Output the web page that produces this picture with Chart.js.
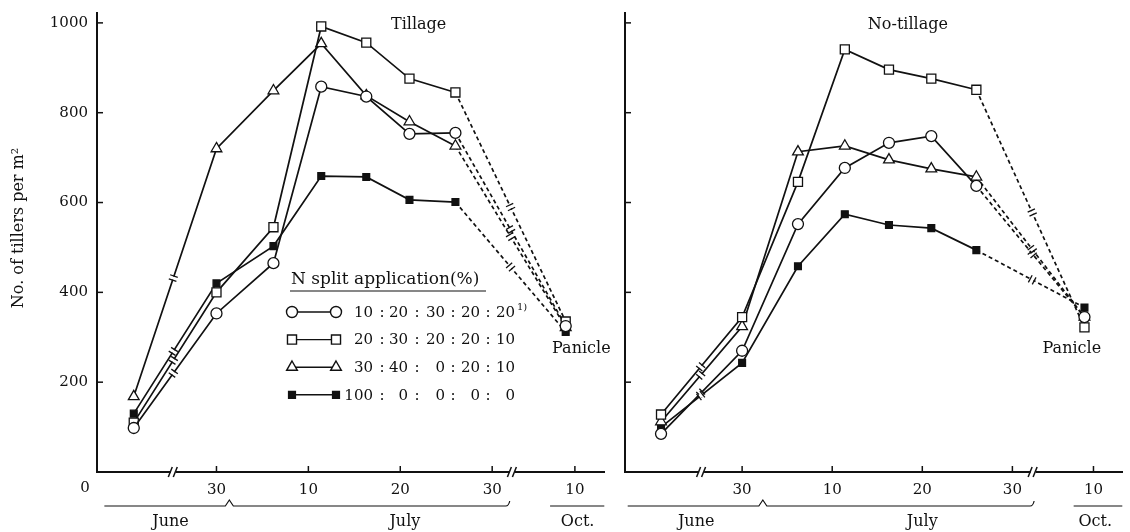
<!DOCTYPE html>
<html>
<head>
<meta charset="utf-8">
<script src="https://cdn.jsdelivr.net/npm/chart.js@4.4.1/dist/chart.umd.min.js"></script>
<style>
  html, body { margin: 0; padding: 0; background: #fff; }
  #wrap { position: relative; width: 1130px; height: 532px; overflow: hidden; }
  canvas { position: absolute; top: 0; }
  #left { left: 0; }
  #right { left: 612px; }
</style>
</head>
<body>
<div id="wrap">
  <canvas id="left" width="612" height="532"></canvas>
  <canvas id="right" width="518" height="532"></canvas>
</div>
<script>
// sampling dates on the broken time axis (days counted from 1 June)
const sampleDays = [21, 30, 36.2, 41.4, 46.3, 51, 56, 68];
const dayTicks = [30, 40, 50, 60, 69];
const dayTickLabels = ["30", "10", "20", "30", "10"];
const monthNames = ["June", "July", "Oct."];
const yTicks = [200, 400, 600, 800, 1000];
const yTitle = "No. of tillers per m²";

// N split application (%) treatments
const legendTitle = "N split application(%)";
const splitRatios = [
  ["10", "20", "30", "20", "20"],
  ["20", "30", "20", "20", "10"],
  ["30", "40", "0", "20", "10"],
  ["100", "0", "0", "0", "0"]
];

// tillage
const tillA = [98, 353, 465, 858, 836, 753, 755, 325];
const tillB = [110, 400, 545, 992, 956, 876, 845, 335];
const tillC = [168, 720, 849, 954, 838, 780, 726, 322];
const tillD = [130, 420, 503, 659, 657, 606, 601, 312];

// no-tillage
const noTillA = [85, 270, 552, 677, 733, 748, 637, 345];
const noTillB = [128, 345, 646, 941, 896, 876, 851, 322];
const noTillC = [112, 324, 713, 726, 695, 675, 657, 345];
const noTillD = [100, 243, 458, 574, 550, 543, 494, 366];

const ink = "#111";
const serif = '"DejaVu Serif", serif';
Chart.defaults.font.family = serif;
Chart.defaults.color = ink;

const markers = [
  { style: "circle", r: 5.5, fill: "#fff" },
  { style: "rect", r: 6.4, fill: "#fff" },
  { style: "triangle", r: 6.2, fill: "#fff" },
  { style: "rect", r: 4.8, fill: ink }
];

function drawMarker(ctx, m, x, y) {
  ctx.beginPath();
  if (m.style === "circle") {
    ctx.arc(x, y, m.r, 0, Math.PI * 2);
  } else if (m.style === "rect") {
    const h = m.r * Math.SQRT1_2;
    ctx.rect(x - h, y - h, 2 * h, 2 * h);
  } else {
    ctx.moveTo(x, y - m.r);
    ctx.lineTo(x + m.r * 0.866, y + m.r * 0.5);
    ctx.lineTo(x - m.r * 0.866, y + m.r * 0.5);
    ctx.closePath();
  }
  ctx.fillStyle = m.fill;
  ctx.fill();
  ctx.stroke();
}

function seg(ctx, x1, y1, x2, y2) {
  ctx.beginPath();
  ctx.moveTo(x1, y1);
  ctx.lineTo(x2, y2);
  ctx.stroke();
}

// ticks, breaks, braces, labels and legend
const decor = {
  id: "decor",
  afterDraw(chart, args, o) {
    const { ctx, chartArea: a } = chart;
    const x = chart.scales.x, y = chart.scales.y;
    ctx.save();
    ctx.strokeStyle = ink;
    ctx.fillStyle = ink;

    // inward tick marks
    ctx.lineWidth = 1.5;
    dayTicks.forEach(v => {
      const px = x.getPixelForValue(v);
      seg(ctx, px, a.bottom, px, a.bottom - 6);
    });
    yTicks.forEach(v => {
      const py = y.getPixelForValue(v);
      seg(ctx, a.left, py, a.left + 6, py);
    });

    // breaks on the x axis
    o.axisBreaks.forEach(v => {
      const px = x.getPixelForValue(v);
      ctx.fillStyle = "#fff";
      ctx.fillRect(px - 2.5, a.bottom - 3, 5, 6);
      ctx.fillStyle = ink;
      ctx.lineWidth = 1.5;
      seg(ctx, px - 5, a.bottom + 5, px - 1, a.bottom - 5);
      seg(ctx, px, a.bottom + 5, px + 4, a.bottom - 5);
    });

    // breaks on the lines
    chart.data.datasets.forEach((ds, i) => {
      const pts = chart.getDatasetMeta(i).data;
      o.lineBreaks.forEach(([v, k]) => {
        const p0 = pts[k], p1 = pts[k + 1];
        const px = x.getPixelForValue(v);
        const t = (px - p0.x) / (p1.x - p0.x);
        const py = p0.y + t * (p1.y - p0.y);
        const ang = Math.atan2(p1.y - p0.y, p1.x - p0.x);
        const cx = Math.cos(ang), cy = Math.sin(ang);
        ctx.strokeStyle = "#fff";
        ctx.lineWidth = 4;
        seg(ctx, px - cx * 1.5, py - cy * 1.5, px + cx * 1.5, py + cy * 1.5);
        ctx.strokeStyle = ink;
        ctx.lineWidth = 1.3;
        [-2.2, 2.2].forEach(d => {
          const bx = px + cx * d, by = py + cy * d;
          seg(ctx, bx + cy * 4, by - cx * 4, bx - cy * 4, by + cx * 4);
        });
      });
    });

    // month braces
    ctx.lineWidth = 1.2;
    const by = 506;
    const b0 = x.getPixelForValue(o.brace[0]);
    const bp = x.getPixelForValue(o.brace[1]);
    const b1 = x.getPixelForValue(o.brace[2]);
    ctx.beginPath();
    ctx.moveTo(b0, by);
    ctx.lineTo(bp - 4, by);
    ctx.lineTo(bp, by - 6);
    ctx.lineTo(bp + 4, by);
    ctx.lineTo(b1 - 3, by);
    ctx.quadraticCurveTo(b1, by, b1 + 1, by - 5);
    ctx.stroke();
    seg(ctx, x.getPixelForValue(o.octLine[0]), by, x.getPixelForValue(o.octLine[1]), by);

    ctx.font = "16px " + serif;
    ctx.textAlign = "center";
    ctx.textBaseline = "alphabetic";
    o.monthAt.forEach((v, i) => ctx.fillText(monthNames[i], x.getPixelForValue(v), 526));

    // panel title and panicle label
    ctx.fillText(o.title, x.getPixelForValue(o.titleAt), 29);
    ctx.textBaseline = "middle";
    ctx.fillText("Panicle", x.getPixelForValue(o.panicleAt), 349);

    if (o.legend) {
      // y axis title and the corner zero
      ctx.save();
      ctx.translate(19, 228);
      ctx.rotate(-Math.PI / 2);
      ctx.font = "16px " + serif;
      ctx.textAlign = "center";
      ctx.textBaseline = "middle";
      ctx.fillText(yTitle, 0, 0);
      ctx.restore();
      ctx.font = "15px " + serif;
      ctx.textAlign = "center";
      ctx.textBaseline = "middle";
      ctx.fillText("0", a.left - 12, 488);

      // legend
      ctx.textAlign = "left";
      ctx.textBaseline = "alphabetic";
      ctx.font = "17px " + serif;
      ctx.fillText(legendTitle, 291, 284);
      ctx.lineWidth = 1.2;
      seg(ctx, 290, 291, 486, 291);
      const cols = [373, 408, 445, 480, 515];
      const colons = [382, 417, 453, 488];
      splitRatios.forEach((row, i) => {
        const ry = 312 + i * 27.6;
        ctx.lineWidth = 1.4;
        ctx.strokeStyle = ink;
        seg(ctx, 292, ry, 336, ry);
        drawMarker(ctx, markers[i], 292, ry);
        drawMarker(ctx, markers[i], 336, ry);
        ctx.fillStyle = ink;
        ctx.font = "15px " + serif;
        ctx.textBaseline = "middle";
        ctx.textAlign = "right";
        row.forEach((s, j) => ctx.fillText(s, cols[j], ry + 1));
        ctx.textAlign = "center";
        colons.forEach(c => ctx.fillText(":", c, ry + 1));
        if (i === 0) {
          ctx.textAlign = "left";
          ctx.font = "10px " + serif;
          ctx.fillText("1)", 517, ry - 5);
        }
      });
    }
    ctx.restore();
  }
};

function makeDatasets(series) {
  return series.map((vals, i) => ({
    data: sampleDays.map((d, k) => ({ x: d, y: vals[k] })),
    borderColor: ink,
    borderWidth: 1.7,
    pointStyle: markers[i].style,
    pointRadius: markers[i].r,
    pointBackgroundColor: markers[i].fill,
    pointBorderColor: ink,
    pointBorderWidth: 1.3,
    tension: 0,
    clip: false,
    segment: {
      borderDash: c => (c.p0DataIndex === 6 ? [4, 3] : undefined)
    }
  }));
}

function makeChart(id, series, o) {
  return new Chart(document.getElementById(id), {
    type: "line",
    data: { datasets: makeDatasets(series) },
    options: {
      responsive: false,
      animation: false,
      devicePixelRatio: 1,
      layout: { padding: { top: 13, right: o.padRight, left: 0, bottom: 0 } },
      plugins: { legend: { display: false }, tooltip: { enabled: false }, decor: o },
      scales: {
        x: {
          type: "linear",
          min: 17,
          max: 72.2,
          border: { display: true, color: ink, width: 2 },
          grid: { display: true, drawOnChartArea: false, drawTicks: false },
          afterBuildTicks: s => { s.ticks = dayTicks.map(v => ({ value: v })); },
          ticks: {
            autoSkip: false,
            maxRotation: 0,
            padding: 9,
            font: { size: 15 },
            callback: v => dayTickLabels[dayTicks.indexOf(v)]
          },
          afterFit: s => { s.height = 60; }
        },
        y: {
          min: 0,
          max: 1022,
          border: { display: true, color: ink, width: 2 },
          grid: { display: true, drawOnChartArea: false, drawTicks: false },
          afterBuildTicks: s => { s.ticks = yTicks.map(v => ({ value: v })); },
          ticks: { display: o.legend, padding: 9, font: { size: 15 }, callback: v => String(v) },
          afterFit: s => {
            s.width = o.axisWidth;
            s.paddingTop = 0;
            s.paddingBottom = 0;
          }
        }
      }
    },
    plugins: [decor]
  });
}

makeChart("left", [tillA, tillB, tillC, tillD], {
  legend: true,
  axisWidth: 97,
  padRight: 7,
  title: "Tillage",
  titleAt: 52,
  panicleAt: 69.7,
  axisBreaks: [25.3, 62.2],
  lineBreaks: [[25.3, 0], [62, 6]],
  brace: [17.8, 31.4, 61.8],
  octLine: [66.3, 72.2],
  monthAt: [25, 50.5, 69.3]
});

makeChart("right", [noTillA, noTillB, noTillC, noTillD], {
  legend: false,
  axisWidth: 13,
  padRight: 0,
  title: "No-tillage",
  titleAt: 48.4,
  panicleAt: 66.6,
  axisBreaks: [25.5, 62.3],
  lineBreaks: [[25.4, 0], [62.2, 6]],
  brace: [17.3, 32.3, 62.3],
  octLine: [66.8, 72.2],
  monthAt: [24.9, 50, 69.2]
});
</script>
</body>
</html>
